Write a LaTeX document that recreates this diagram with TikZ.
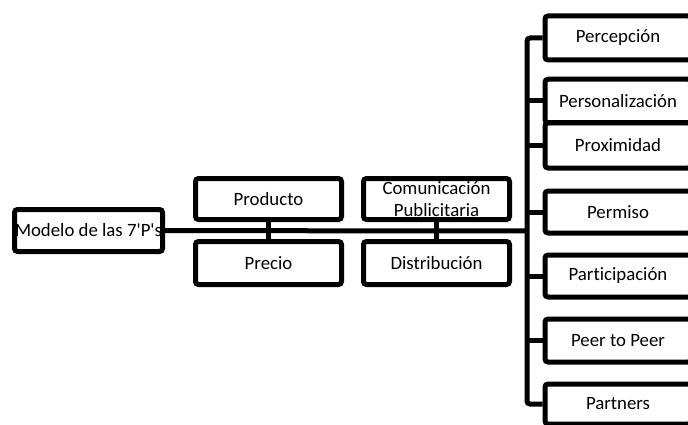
\documentclass[tikz,border=0pt]{standalone}
\usepackage{fontspec}
\setmainfont[Ligatures=NoCommon]{Carlito}
\usetikzlibrary{positioning,calc}

\begin{document}
\begin{tikzpicture}[x=1pt,y=-1pt,line width=5pt,
  caja/.style={draw,rounded corners=3pt,inner sep=0pt,minimum width=146pt,minimum height=42pt,
    align=center,font=\fontsize{18.8}{21.5}\selectfont}]
  \clip (0,0) rectangle (688,425);
  % raiz y primer nivel
  \node[caja,minimum width=148pt] (modelo) at (88.5,230.5) {Modelo de las 7\textquotesingle P\textquotesingle s};
  \node[caja,minimum height=41pt] (producto) at (268.5,199) {Producto};
  \node[caja,minimum height=43pt] (precio) at (268.5,263) {Precio};
  \node[caja,minimum height=41pt] (comunicacion) at (436.5,199) {Comunicación\\Publicitaria};
  \node[caja,minimum height=43pt] (distribucion) at (436.5,263) {Distribución};
  % columna derecha
  \node[caja,minimum height=44pt] (percepcion) at (618,38) {Percepción};
  \node[caja,minimum height=43.5pt] (personalizacion) at (618,101) {Personalización};
  \node[caja,minimum height=45pt] (proximidad) at (618,145.5) {Proximidad};
  \node[caja] (permiso) at (618,212) {Permiso};
  \node[caja] (participacion) at (618,276) {Participación};
  \node[caja,minimum height=43pt] (peer) at (618,340.5) {Peer to Peer};
  \node[caja,minimum height=40pt] (partners) at (618,404) {Partners};
  \coordinate (bus) at (527,231);
  % conectores
  \draw (modelo) -- (bus);
  \draw (producto) -- (precio);
  \draw (comunicacion) -- (distribucion);
  \draw[rounded corners=3pt] (percepcion.west) -| (bus) |- (partners.west);
  \foreach \n in {personalizacion,proximidad,permiso,participacion,peer}
    \draw (bus |- \n.west) -- (\n.west);
\end{tikzpicture}
\end{document}
